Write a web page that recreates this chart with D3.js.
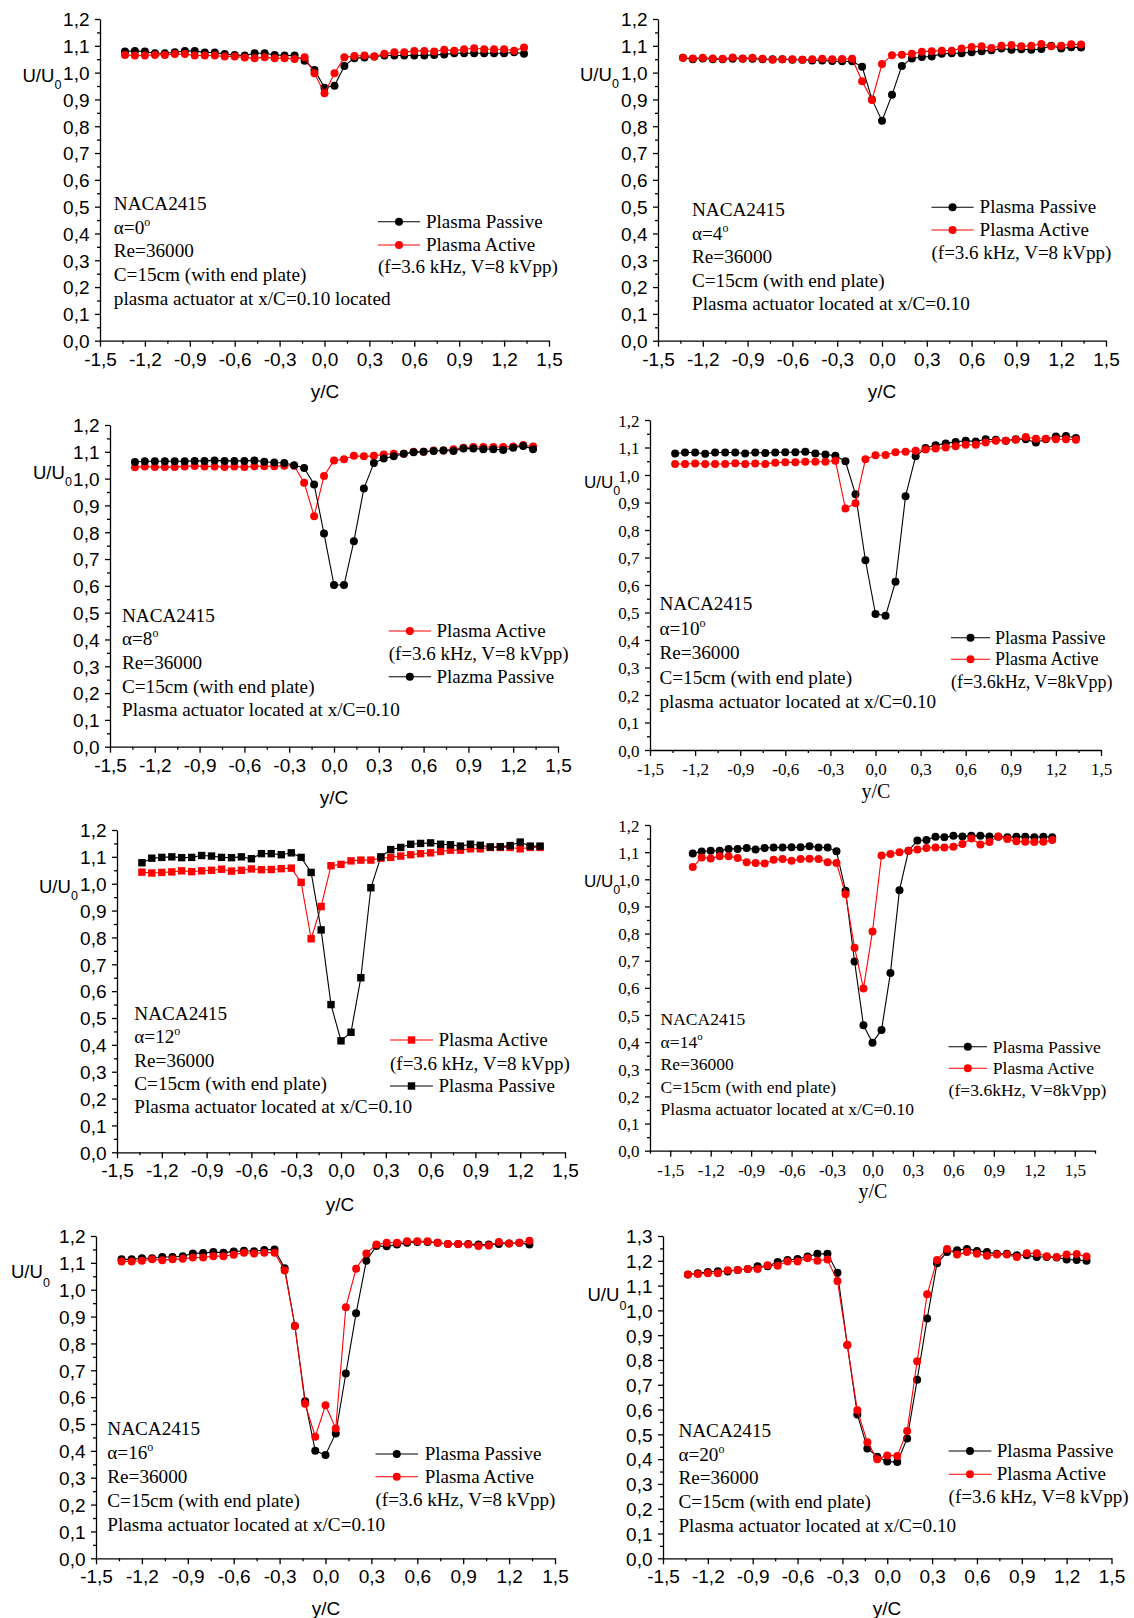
<!DOCTYPE html>
<html>
<head>
<meta charset="utf-8">
<script src="https://cdn.jsdelivr.net/npm/d3@7"></script>
<style>
  body { margin: 0; background: #fff; }
  svg { display: block; }
</style>
</head>
<body>
<svg id="fig" width="1134" height="1618"></svg>
<script>
// Spanwise measuring stations y/C across the wake
const yOverC = [-1.333,-1.267,-1.200,-1.133,-1.067,-1.000,-0.933,-0.867,-0.800,-0.733,-0.667,
  -0.600,-0.533,-0.467,-0.400,-0.333,-0.267,-0.200,-0.133,-0.067,0.000,0.067,0.133,0.200,
  0.267,0.333,0.400,0.467,0.533,0.600,0.667,0.733,0.800,0.867,0.933,1.000,1.067,1.133,1.200,1.267,1.333];

// Tick labels
const xTicks = [-1.5,-1.2,-0.9,-0.6,-0.3,0,0.3,0.6,0.9,1.2,1.5];
const yTicks12 = [0,0.1,0.2,0.3,0.4,0.5,0.6,0.7,0.8,0.9,1.0,1.1,1.2];
const yTicks13 = [0,0.1,0.2,0.3,0.4,0.5,0.6,0.7,0.8,0.9,1.0,1.1,1.2,1.3];

// U/U0 velocity ratios, alpha = 0 deg
const passive0 = [1.079,1.081,1.079,1.072,1.072,1.076,1.081,1.081,1.075,1.075,1.069,1.066,1.064,1.072,1.072,1.066,1.064,1.064,1.044,1.010,
  0.944,
  0.951,1.025,1.054,1.056,1.060,1.064,1.064,1.064,1.064,1.064,1.066,1.068,1.072,1.072,1.072,1.072,1.072,1.072,1.076,1.070];
const active0 = [1.066,1.064,1.064,1.066,1.066,1.069,1.069,1.064,1.064,1.064,1.060,1.060,1.056,1.054,1.057,1.054,1.054,1.051,1.057,0.998,
  0.923,
  0.998,1.057,1.062,1.064,1.060,1.070,1.076,1.076,1.081,1.081,1.079,1.085,1.082,1.087,1.091,1.087,1.087,1.087,1.082,1.094];

// alpha = 4 deg
const passive4 = [1.055,1.050,1.053,1.050,1.050,1.052,1.052,1.052,1.050,1.050,1.050,1.048,1.048,1.045,1.045,1.043,1.042,1.042,1.022,0.900,
  0.820,
  0.917,1.025,1.053,1.058,1.060,1.070,1.072,1.072,1.076,1.080,1.083,1.090,1.085,1.087,1.085,1.088,1.100,1.090,1.095,1.094];
const active4 = [1.055,1.053,1.055,1.053,1.052,1.056,1.053,1.055,1.052,1.048,1.050,1.050,1.048,1.050,1.052,1.050,1.051,1.052,0.968,0.898,
  1.032,
  1.065,1.067,1.070,1.078,1.080,1.082,1.082,1.090,1.096,1.098,1.092,1.100,1.103,1.098,1.100,1.107,1.098,1.100,1.106,1.105];

// alpha = 8 deg
const passive8 = [1.062,1.065,1.065,1.065,1.065,1.065,1.066,1.066,1.068,1.066,1.066,1.066,1.068,1.063,1.060,1.058,1.050,1.040,0.978,0.795,
  0.603,
  0.603,0.766,0.963,1.058,1.075,1.083,1.093,1.098,1.100,1.103,1.105,1.103,1.112,1.112,1.110,1.110,1.107,1.115,1.122,1.110];
const active8 = [1.042,1.045,1.043,1.043,1.043,1.045,1.047,1.045,1.045,1.043,1.045,1.043,1.046,1.046,1.046,1.048,1.048,0.985,0.860,1.010,
  1.068,
  1.072,1.085,1.083,1.085,1.090,1.093,1.093,1.100,1.100,1.105,1.105,1.110,1.115,1.118,1.118,1.118,1.118,1.120,1.125,1.120];

// alpha = 10 deg
const passive10 = [1.078,1.082,1.082,1.077,1.082,1.082,1.082,1.078,1.082,1.080,1.082,1.083,1.083,1.085,1.078,1.075,1.070,1.050,0.930,0.690,
  0.495,
  0.488,0.612,0.923,1.068,1.098,1.108,1.115,1.120,1.125,1.122,1.130,1.128,1.125,1.130,1.130,1.118,1.130,1.140,1.142,1.135];
const active10 = [1.040,1.040,1.042,1.040,1.040,1.040,1.043,1.040,1.042,1.040,1.045,1.046,1.046,1.048,1.048,1.048,1.052,0.878,0.897,1.057,
  1.072,
  1.073,1.083,1.085,1.088,1.093,1.096,1.100,1.105,1.110,1.110,1.118,1.125,1.125,1.128,1.138,1.132,1.132,1.130,1.130,1.128];

// alpha = 12 deg
const passive12 = [1.078,1.095,1.098,1.100,1.097,1.098,1.105,1.103,1.098,1.097,1.100,1.093,1.112,1.112,1.108,1.115,1.098,1.042,0.828,0.550,
  0.415,
  0.447,0.650,0.985,1.100,1.127,1.135,1.147,1.150,1.152,1.147,1.145,1.140,1.147,1.143,1.137,1.138,1.142,1.155,1.140,1.140];
const active12 = [1.043,1.040,1.042,1.044,1.048,1.045,1.048,1.050,1.054,1.047,1.050,1.055,1.052,1.053,1.056,1.058,1.005,0.795,0.915,1.067,
  1.072,
  1.085,1.088,1.088,1.095,1.098,1.103,1.108,1.112,1.115,1.120,1.125,1.125,1.130,1.130,1.135,1.135,1.135,1.130,1.135,1.135];

// alpha = 14 deg
const passive14 = [1.095,1.102,1.105,1.105,1.112,1.112,1.115,1.110,1.115,1.117,1.117,1.118,1.118,1.122,1.117,1.117,1.103,0.958,0.697,0.462,
  0.398,
  0.445,0.655,0.960,1.105,1.143,1.145,1.157,1.155,1.160,1.158,1.160,1.160,1.158,1.157,1.155,1.157,1.157,1.155,1.157,1.155];
const active14 = [1.045,1.080,1.077,1.085,1.085,1.078,1.063,1.060,1.058,1.072,1.075,1.068,1.075,1.076,1.075,1.063,1.060,0.945,0.748,0.598,
  0.808,
  1.088,1.093,1.100,1.105,1.110,1.115,1.117,1.117,1.120,1.130,1.150,1.128,1.137,1.158,1.148,1.140,1.138,1.137,1.138,1.145];

// alpha = 16 deg
const passive16 = [1.113,1.113,1.117,1.117,1.122,1.122,1.125,1.135,1.137,1.140,1.138,1.142,1.145,1.143,1.148,1.150,1.080,0.865,0.585,0.400,
  0.385,
  0.465,0.688,0.912,1.108,1.163,1.162,1.168,1.175,1.178,1.178,1.175,1.170,1.170,1.170,1.168,1.168,1.170,1.172,1.175,1.168];
const active16 = [1.105,1.105,1.108,1.113,1.110,1.113,1.115,1.120,1.120,1.125,1.125,1.130,1.138,1.135,1.138,1.138,1.072,0.865,0.575,0.453,
  0.570,
  0.483,0.935,1.078,1.135,1.168,1.175,1.175,1.180,1.180,1.180,1.175,1.170,1.170,1.168,1.163,1.165,1.178,1.172,1.175,1.182];

// alpha = 20 deg
const passive20 = [1.145,1.150,1.155,1.158,1.157,1.163,1.167,1.178,1.178,1.195,1.203,1.207,1.217,1.228,1.228,1.152,0.860,0.580,0.443,0.410,
  0.390,
  0.388,0.483,0.720,0.967,1.190,1.235,1.243,1.248,1.240,1.235,1.228,1.228,1.222,1.222,1.215,1.215,1.213,1.205,1.203,1.200];
const active20 = [1.145,1.147,1.150,1.150,1.162,1.163,1.167,1.167,1.182,1.180,1.197,1.197,1.210,1.200,1.205,1.118,0.860,0.597,0.468,0.400,
  0.415,
  0.413,0.513,0.795,1.065,1.203,1.248,1.225,1.235,1.228,1.220,1.225,1.225,1.215,1.230,1.230,1.218,1.215,1.225,1.227,1.217];

const SANS = "'Liberation Sans', Arial, Helvetica, sans-serif";
const SERIF = "'Liberation Serif', 'Times New Roman', Times, serif";
const RED = "#ff0000", BLACK = "#000000";

const LBL_PASSIVE = "Plasma Passive";
const LBL_ACTIVE = "Plasma Active";
const COND = "(f=3.6 kHz, V=8 kVpp)";
const COND_TIGHT = "(f=3.6kHz, V=8kVpp)";
const LOC = "Plasma actuator located at x/C=0.10";

function noteLines(alpha, last) {
  return [{t: "NACA2415"}, {t: "\u03b1=" + alpha, sup: "o"}, {t: "Re=36000"},
          {t: "C=15cm (with end plate)"}, {t: last}];
}

// Panel layout and series order
const panels = [
  { left: 100, right: 549, top: 19, bottom: 340.7, xDomain: [-1.5, 1.5], yTicks: yTicks12, serifTicks: false,
    yLab: [22.5, 82], xLab: [325, 398],
    note: { x: 113.8, y: 210, dy: 23.7, size: 19.2, lines: noteLines("0", "plasma actuator at x/C=0.10 located") },
    series: [ { v: passive0, c: BLACK, name: LBL_PASSIVE }, { v: active0, c: RED, name: LBL_ACTIVE } ],
    legend: { x1: 378, x2: 420, tx: 426, size: 19,
      rows: [ { y: 227.7, s: 0 }, { y: 251, s: 1 }, { y: 272.7, text: COND } ] } },
  { left: 658, right: 1106, top: 19, bottom: 340.7, xDomain: [-1.5, 1.5], yTicks: yTicks12, serifTicks: false,
    yLab: [580, 81], xLab: [882, 398],
    note: { x: 692, y: 216, dy: 23.6, size: 19.2, lines: noteLines("4", LOC) },
    series: [ { v: passive4, c: BLACK, name: LBL_PASSIVE }, { v: active4, c: RED, name: LBL_ACTIVE } ],
    legend: { x1: 931.5, x2: 973.6, tx: 979.6, size: 19,
      rows: [ { y: 213.3, s: 0 }, { y: 236, s: 1 }, { y: 258.7, text: COND } ] } },
  { left: 110, right: 558, top: 425, bottom: 746.7, xDomain: [-1.5, 1.5], yTicks: yTicks12, serifTicks: false,
    yLab: [33, 479], xLab: [334, 804],
    note: { x: 122, y: 621.7, dy: 23.6, size: 19.2, lines: noteLines("8", LOC) },
    series: [ { v: active8, c: RED, name: LBL_ACTIVE }, { v: passive8, c: BLACK, name: "Plazma Passive" } ],
    legend: { x1: 388.7, x2: 431, tx: 436.4, size: 19,
      rows: [ { y: 637, s: 0 }, { y: 660.3, text: COND }, { y: 682.7, s: 1 } ] } },
  { left: 650, right: 1101, top: 420, bottom: 750, xDomain: [-1.5, 1.5], yTicks: yTicks12, serifTicks: true,
    yLab: [584, 488], xLab: [876, 798], serifXLab: true,
    note: { x: 659.5, y: 610.3, dy: 24.5, size: 19.2, lines: noteLines("10", "plasma actuator located at x/C=0.10") },
    series: [ { v: passive10, c: BLACK, name: LBL_PASSIVE }, { v: active10, c: RED, name: LBL_ACTIVE } ],
    legend: { x1: 951, x2: 990, tx: 995, size: 18,
      rows: [ { y: 643.7, s: 0 }, { y: 665.3, s: 1 }, { y: 687.7, text: COND_TIGHT } ] } },
  { left: 117, right: 565, top: 830, bottom: 1152.3, xDomain: [-1.5, 1.5], yTicks: yTicks12, serifTicks: false,
    yLab: [39, 893], xLab: [340, 1211], square: true,
    note: { x: 134.3, y: 1020, dy: 23.3, size: 19.2, lines: noteLines("12", LOC) },
    series: [ { v: active12, c: RED, name: LBL_ACTIVE }, { v: passive12, c: BLACK, name: LBL_PASSIVE } ],
    legend: { x1: 390, x2: 433, tx: 438.4, size: 19,
      rows: [ { y: 1046, s: 0 }, { y: 1070, text: COND }, { y: 1092, s: 1 } ] } },
  { left: 650, right: 1095, top: 825, bottom: 1150.7, xDomain: [-1.65, 1.65], yTicks: yTicks12, serifTicks: true,
    yLab: [584, 887], xLab: [873, 1198], serifXLab: true,
    note: { x: 660.6, y: 1025.3, dy: 22.5, size: 17.5, lines: noteLines("14", LOC) },
    series: [ { v: passive14, c: BLACK, name: LBL_PASSIVE }, { v: active14, c: RED, name: LBL_ACTIVE } ],
    legend: { x1: 948.6, x2: 987, tx: 992.8, size: 17.6,
      rows: [ { y: 1052.7, s: 0 }, { y: 1074.3, s: 1 }, { y: 1096, text: COND_TIGHT } ] } },
  { left: 96, right: 555, top: 1236, bottom: 1558.3, xDomain: [-1.5, 1.5], yTicks: yTicks12, serifTicks: false,
    yLab: [11, 1278], xLab: [326, 1615], subDrop: 9,
    note: { x: 107.3, y: 1435, dy: 24, size: 19.2, lines: noteLines("16", LOC) },
    series: [ { v: passive16, c: BLACK, name: LBL_PASSIVE }, { v: active16, c: RED, name: LBL_ACTIVE } ],
    legend: { x1: 375.5, x2: 418, tx: 424.7, size: 19,
      rows: [ { y: 1460, s: 0 }, { y: 1482.7, s: 1 }, { y: 1505.7, text: COND } ] } },
  { left: 663, right: 1111.5, top: 1236, bottom: 1558.3, xDomain: [-1.5, 1.5], yTicks: yTicks13, serifTicks: false,
    yLab: [587.5, 1301], xLab: [887, 1615], subDrop: 9,
    note: { x: 678.4, y: 1436.7, dy: 23.8, size: 19.2, lines: noteLines("20", LOC) },
    series: [ { v: passive20, c: BLACK, name: LBL_PASSIVE }, { v: active20, c: RED, name: LBL_ACTIVE } ],
    legend: { x1: 948.6, x2: 991.4, tx: 996.7, size: 19,
      rows: [ { y: 1457, s: 0 }, { y: 1480.3, s: 1 }, { y: 1502.7, text: COND } ] } }
];

const svg = d3.select("#fig");
const commaFmt = v => (v < 0 ? "-" : "") + Math.abs(v).toFixed(1).replace(".", ",");

function marker(sel, p, color, cx, cy) {
  if (p.square) {
    sel.append("rect").attr("x", cx - 3.7).attr("y", cy - 3.7)
      .attr("width", 7.4).attr("height", 7.4).attr("fill", color);
  } else {
    sel.append("circle").attr("cx", cx).attr("cy", cy).attr("r", 4).attr("fill", color);
  }
}

function drawPanel(p) {
  const g = svg.append("g");
  const yMax = p.yTicks[p.yTicks.length - 1];
  const x = d3.scaleLinear().domain(p.xDomain).range([p.left, p.right]);
  const y = d3.scaleLinear().domain([0, yMax]).range([p.bottom, p.top]);
  const tickFamily = p.serifTicks ? SERIF : SANS;
  const tickSize = p.serifTicks ? 17 : 19;

  const xMinor = d3.range(Math.ceil(p.xDomain[0] / 0.15 - 1e-9), Math.floor(p.xDomain[1] / 0.15 + 1e-9) + 1)
    .map(i => +(i * 0.15).toFixed(2)).filter(v => Math.abs((v / 0.3) - Math.round(v / 0.3)) > 1e-6);
  const yMinor = p.yTicks.slice(1).map(v => +(v - 0.05).toFixed(2));

  // minor ticks
  g.append("g").attr("transform", `translate(0,${p.bottom})`)
    .call(d3.axisBottom(x).tickValues(xMinor).tickSize(3).tickFormat("").tickSizeOuter(0))
    .call(s => s.select(".domain").remove());
  g.append("g").attr("transform", `translate(${p.left},0)`)
    .call(d3.axisLeft(y).tickValues(yMinor).tickSize(3).tickFormat("").tickSizeOuter(0))
    .call(s => s.select(".domain").remove());

  // major ticks with labels
  const gx = g.append("g").attr("transform", `translate(0,${p.bottom})`)
    .call(d3.axisBottom(x).tickValues(xTicks).tickSize(6).tickFormat(commaFmt).tickSizeOuter(0));
  gx.selectAll("text").attr("y", 25).attr("dy", null)
    .attr("font-family", tickFamily).attr("font-size", tickSize).attr("fill", "#000");

  const gy = g.append("g").attr("transform", `translate(${p.left},0)`)
    .call(d3.axisLeft(y).tickValues(p.yTicks).tickSize(5).tickFormat(commaFmt).tickSizeOuter(0));
  gy.selectAll("text").attr("x", -10.5).attr("dy", "0.36em")
    .attr("font-family", tickFamily).attr("font-size", tickSize).attr("fill", "#000");

  g.selectAll(".domain, .tick line").attr("stroke", "#000").attr("stroke-width", 1.3);
  g.selectAll(".domain").attr("fill", "none");

  // axis titles
  const yl = g.append("text").attr("x", p.yLab[0]).attr("y", p.yLab[1])
    .attr("font-family", SANS).attr("font-size", p.serifTicks ? 17 : 18.5).attr("fill", "#000");
  yl.append("tspan").text("U/U");
  yl.append("tspan").attr("dy", p.subDrop || 7).attr("font-size", 12.5).text("0");

  g.append("text").attr("x", p.xLab[0]).attr("y", p.xLab[1]).attr("text-anchor", "middle")
    .attr("font-family", p.serifXLab ? SERIF : SANS).attr("font-size", p.serifXLab ? 20 : 19)
    .attr("fill", "#000").text("y/C");

  // series: line then markers
  const line = d3.line().x((d, i) => x(yOverC[i])).y(d => y(d));
  p.series.forEach(s => {
    g.append("path").datum(s.v).attr("d", line)
      .attr("fill", "none").attr("stroke", s.c).attr("stroke-width", 1.1);
    const mg = g.append("g");
    s.v.forEach((v, i) => marker(mg, p, s.c, x(yOverC[i]), y(v)));
  });

  // annotation block
  const n = p.note;
  n.lines.forEach((ln, i) => {
    const t = g.append("text").attr("x", n.x).attr("y", n.y + i * n.dy)
      .attr("font-family", SERIF).attr("font-size", n.size).attr("fill", "#000");
    t.append("tspan").text(ln.t);
    if (ln.sup) t.append("tspan").attr("dy", -8).attr("font-size", n.size * 0.62).text(ln.sup);
  });

  // legend
  const L = p.legend;
  L.rows.forEach(r => {
    if (r.text) {
      g.append("text").attr("x", L.x1).attr("y", r.y).attr("font-family", SERIF)
        .attr("font-size", L.size).attr("fill", "#000").text(r.text);
      return;
    }
    const s = p.series[r.s];
    const ly = r.y - 6;
    g.append("line").attr("x1", L.x1).attr("x2", L.x2).attr("y1", ly).attr("y2", ly)
      .attr("stroke", s.c).attr("stroke-width", 1.1);
    marker(g, p, s.c, (L.x1 + L.x2) / 2, ly);
    g.append("text").attr("x", L.tx).attr("y", r.y).attr("font-family", SERIF)
      .attr("font-size", L.size).attr("fill", "#000").text(s.name);
  });
}

panels.forEach(drawPanel);
</script>
</body>
</html>
